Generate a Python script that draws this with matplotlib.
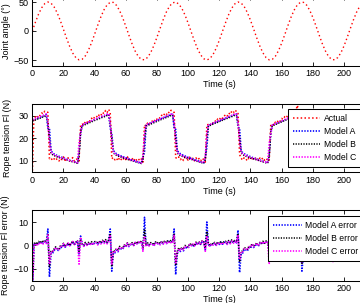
import numpy as np
import matplotlib
matplotlib.use("Agg")
import matplotlib.pyplot as plt

plt.rcParams['font.family'] = ['Liberation Sans', 'DejaVu Sans']
plt.rcParams['font.size'] = 6.5

# joint angle, sampled every 2 s
t_angle = np.arange(0, 213, 2)
joint_angle = [
    0.0, 15.2, 29.0, 40.0, 47.2, 50.0, 48.0, 41.5, 31.1, 17.7, 2.7,
    -12.6, -26.7, -38.3, -46.2, -49.8, -48.7, -43.0, -33.2, -20.3, -5.4,
    10.0, 24.4, 36.5, 45.1, 49.5, 49.3, 44.3, 35.2, 22.7, 8.1,
    -7.3, -22.0, -34.6, -43.9, -49.1, -49.6, -45.5, -37.0, -25.1, -10.7,
    4.6, 19.5, 32.6, 42.6, 48.5, 49.9, 46.5, 38.8, 27.4, 13.4,
    -1.9, -17.0, -30.5, -41.1, -47.8, -50.0, -47.5, -40.4, -29.6, -15.9,
    -0.8, 14.4, 28.3, 39.5, 46.9, 50.0, 48.2, 42.0, 31.7, 18.5, 3.5,
    -11.8, -26.0, -37.8, -45.9, -49.8, -48.9, -43.4, -33.8, -21.0, -6.2,
    9.2, 23.7, 35.9, 44.8, 49.4, 49.4, 44.7, 35.7, 23.4, 8.9,
    -6.5, -21.3, -34.0, -43.5, -49.0, -49.7, -45.8, -37.6, -25.8, -11.5,
    3.8, 18.8, 32.0, 42.2, 48.3,
]

# rope tension, sampled every 1 s (t = 0..212)
t_tension = np.arange(213)
actual = [
    4.0, 28.6, 29.5, 28.9, 30.4, 30.0, 31.2, 30.8, 32.0, 31.6, 31.5,
    11.0, 11.3, 10.2, 10.9, 11.5, 10.4, 9.9, 11.1, 10.6, 11.8, 10.3, 10.7, 11.4, 10.0, 10.8, 11.5, 9.9, 10.6, 11.0, 10.0,
    26.0, 26.3, 25.9, 27.4, 26.9, 28.0, 27.6, 28.9, 28.3, 29.5, 29.9, 29.2, 30.6, 30.1, 31.5, 30.9, 32.3, 31.4, 32.8, 31.5,
    11.0, 11.6, 10.5, 11.2, 10.1, 11.5, 10.7, 10.2, 11.4, 10.6, 11.9, 10.4, 10.9, 11.3, 10.0, 11.2, 10.3, 11.0, 10.1, 10.9, 9.5,
    26.0, 25.4, 26.8, 26.2, 27.5, 27.6, 27.1, 28.7, 28.4, 29.3, 28.9, 30.2, 29.8, 31.0, 30.4, 31.7, 31.2, 32.4, 32.0, 31.5,
    11.5, 11.0, 11.8, 10.6, 11.3, 10.2, 11.6, 10.9, 10.4, 11.7, 10.8, 11.2, 10.1, 11.4, 10.5, 11.1, 10.0, 11.2, 10.6, 9.5,
    26.0, 26.1, 25.6, 27.0, 26.8, 27.9, 27.3, 28.6, 28.2, 29.4, 28.8, 29.9, 30.3, 29.7, 31.2, 30.6, 32.0, 31.3, 32.5, 31.9, 31.5,
    12.9, 11.2, 10.4, 11.5, 10.9, 10.1, 11.3, 10.7, 11.8, 10.5, 11.0, 11.6, 10.2, 11.3, 10.6, 11.4, 10.3, 11.1, 10.4, 10.0,
    26.0, 26.4, 25.8, 27.2, 26.9, 28.1, 27.5, 28.8, 28.4, 29.6, 29.1, 30.4, 30.0, 31.3, 30.8, 32.2, 31.6, 34.6, 32.5, 31.5,
    12.0, 11.4, 10.6, 11.7, 10.3, 11.1, 10.8, 11.6, 10.2, 11.3, 10.7, 11.5, 10.4, 11.0, 10.1, 11.2, 10.5, 10.9, 10.0, 10.8, 9.8,
    26.0, 26.2, 25.9, 27.1, 26.8, 27.9, 27.4, 28.7, 28.3, 29.5, 29.0, 30.2, 29.9, 31.1, 30.6, 31.8, 31.3, 32.4, 31.9,
]
model_a = [
    28.0, 28.3, 28.5, 28.8, 29.1, 29.3, 29.6, 29.9, 30.2, 30.5, 24.5,
    24.5, 14.6, 13.6, 13.1, 12.7, 12.4, 12.1, 11.8, 11.6, 11.3, 11.1, 10.8, 10.6, 10.3, 10.1, 9.9, 9.6, 9.4, 9.1, 14.0,
    22.0, 25.8, 26.2, 26.5, 26.8, 27.1, 27.4, 27.7, 28.0, 28.3, 28.6, 28.8, 29.1, 29.4, 29.7, 29.9, 30.2, 30.5, 30.8, 24.5,
    22.0, 14.8, 13.7, 13.2, 12.8, 12.5, 12.2, 11.9, 11.7, 11.4, 11.2, 10.9, 10.7, 10.4, 10.2, 10.0, 9.7, 9.5, 9.3, 9.1, 11.5,
    14.0, 25.7, 26.1, 26.4, 26.7, 27.0, 27.3, 27.6, 27.9, 28.2, 28.5, 28.8, 29.1, 29.4, 29.6, 29.9, 30.2, 30.5, 30.8, 24.5,
    24.0, 14.7, 13.7, 13.2, 12.8, 12.5, 12.2, 11.9, 11.6, 11.4, 11.1, 10.9, 10.6, 10.4, 10.1, 9.9, 9.6, 9.4, 9.2, 11.5,
    16.0, 25.7, 26.0, 26.3, 26.6, 26.9, 27.2, 27.5, 27.8, 28.0, 28.3, 28.6, 28.9, 29.1, 29.4, 29.7, 29.9, 30.2, 30.5, 30.8, 25.0,
    24.5, 14.7, 13.7, 13.2, 12.8, 12.5, 12.2, 11.9, 11.6, 11.4, 11.1, 10.9, 10.6, 10.4, 10.1, 9.9, 9.6, 9.4, 9.2, 13.0,
    22.0, 25.8, 26.1, 26.4, 26.7, 27.0, 27.3, 27.6, 27.9, 28.2, 28.5, 28.8, 29.1, 29.4, 29.7, 30.0, 30.3, 30.6, 30.9, 25.0,
    23.0, 14.8, 13.8, 13.2, 12.8, 12.5, 12.2, 11.9, 11.7, 11.4, 11.2, 10.9, 10.7, 10.4, 10.2, 10.0, 9.7, 9.5, 9.3, 9.1, 12.0,
    22.0, 25.8, 26.1, 26.4, 26.7, 27.0, 27.3, 27.6, 27.9, 28.2, 28.5, 28.8, 29.1, 29.4, 29.7, 29.9, 30.2, 30.5, 30.8,
]
model_b = [
    27.6, 27.9, 28.1, 28.4, 28.7, 28.9, 29.2, 29.5, 29.8, 30.1, 26.5,
    20.0, 13.6, 12.8, 12.4, 12.1, 11.8, 11.6, 11.3, 11.1, 10.9, 10.7, 10.5, 10.3, 10.0, 9.8, 9.6, 9.4, 9.2, 9.0, 12.5,
    23.0, 25.5, 25.8, 26.1, 26.4, 26.7, 27.0, 27.3, 27.6, 27.9, 28.2, 28.4, 28.7, 29.0, 29.3, 29.5, 29.8, 30.1, 30.4, 26.5,
    20.0, 13.7, 12.9, 12.5, 12.2, 11.9, 11.7, 11.4, 11.2, 11.0, 10.8, 10.5, 10.3, 10.1, 9.9, 9.7, 9.5, 9.3, 9.1, 8.9, 10.5,
    19.0, 25.4, 25.7, 26.0, 26.3, 26.6, 26.9, 27.2, 27.5, 27.8, 28.1, 28.4, 28.7, 29.0, 29.2, 29.5, 29.8, 30.1, 30.4, 26.5,
    20.0, 13.6, 12.8, 12.4, 12.1, 11.8, 11.6, 11.3, 11.1, 10.9, 10.7, 10.5, 10.3, 10.0, 9.8, 9.6, 9.4, 9.2, 9.0, 10.5,
    20.0, 25.4, 25.7, 26.0, 26.3, 26.6, 26.9, 27.1, 27.4, 27.7, 28.0, 28.3, 28.5, 28.8, 29.1, 29.3, 29.6, 29.9, 30.2, 30.4, 26.5,
    20.0, 13.6, 12.8, 12.4, 12.1, 11.8, 11.6, 11.3, 11.1, 10.9, 10.7, 10.5, 10.3, 10.0, 9.8, 9.6, 9.4, 9.2, 9.0, 12.0,
    23.0, 25.5, 25.8, 26.1, 26.4, 26.7, 27.0, 27.3, 27.6, 27.9, 28.2, 28.5, 28.8, 29.0, 29.3, 29.6, 29.9, 30.2, 30.5, 26.5,
    20.0, 13.7, 12.9, 12.5, 12.2, 11.9, 11.7, 11.4, 11.2, 11.0, 10.8, 10.5, 10.3, 10.1, 9.9, 9.7, 9.5, 9.3, 9.1, 8.9, 11.0,
    23.0, 25.5, 25.8, 26.1, 26.4, 26.7, 27.0, 27.3, 27.6, 27.9, 28.2, 28.5, 28.8, 29.0, 29.3, 29.6, 29.9, 30.2, 30.5,
]
model_c = [
    28.3, 28.6, 28.8, 29.1, 29.4, 29.6, 29.9, 30.2, 30.5, 30.8, 27.0,
    19.0, 14.0, 13.2, 12.8, 12.4, 12.1, 11.8, 11.6, 11.3, 11.1, 10.9, 10.6, 10.4, 10.2, 10.0, 9.8, 9.6, 9.4, 9.2, 18.0,
    22.5, 25.9, 26.3, 26.6, 26.9, 27.2, 27.5, 27.8, 28.1, 28.4, 28.7, 29.0, 29.3, 29.5, 29.8, 30.1, 30.4, 30.7, 31.0, 27.0,
    19.0, 14.1, 13.3, 12.9, 12.5, 12.2, 11.9, 11.7, 11.4, 11.2, 11.0, 10.7, 10.5, 10.3, 10.1, 9.9, 9.7, 9.5, 9.3, 9.1, 12.0,
    22.0, 25.8, 26.2, 26.5, 26.8, 27.1, 27.4, 27.7, 28.0, 28.3, 28.6, 28.9, 29.2, 29.5, 29.8, 30.1, 30.4, 30.7, 31.0, 27.0,
    19.0, 14.0, 13.2, 12.8, 12.4, 12.1, 11.8, 11.6, 11.3, 11.1, 10.9, 10.6, 10.4, 10.2, 10.0, 9.8, 9.6, 9.4, 9.2, 12.0,
    22.0, 25.8, 26.1, 26.4, 26.7, 27.0, 27.3, 27.6, 27.9, 28.2, 28.5, 28.8, 29.0, 29.3, 29.6, 29.9, 30.2, 30.4, 30.7, 31.0, 27.0,
    19.0, 14.0, 13.2, 12.8, 12.4, 12.1, 11.8, 11.6, 11.3, 11.1, 10.9, 10.6, 10.4, 10.2, 10.0, 9.8, 9.6, 9.4, 9.2, 18.0,
    22.0, 25.9, 26.2, 26.5, 26.8, 27.1, 27.4, 27.7, 28.0, 28.3, 28.6, 28.9, 29.2, 29.5, 29.8, 30.1, 30.4, 30.7, 31.0, 27.0,
    19.0, 14.1, 13.3, 12.9, 12.5, 12.2, 11.9, 11.7, 11.4, 11.2, 11.0, 10.7, 10.5, 10.3, 10.1, 9.9, 9.7, 9.5, 9.3, 9.1, 17.0,
    22.0, 25.9, 26.2, 26.5, 26.8, 27.1, 27.4, 27.7, 28.0, 28.3, 28.6, 28.9, 29.2, 29.5, 29.8, 30.1, 30.4, 30.7, 31.0,
]
for s in (actual, model_a, model_b, model_c):
    assert len(s) == len(t_tension)

act = np.array(actual)
err_a = act - np.array(model_a)
err_b = act - np.array(model_b)
err_c = act - np.array(model_c)

# layout in pixels of the 360x303 picture
W, H = 360, 303
x0, pxu, xmax = 32.3, 1.5585, 240

fig = plt.figure(figsize=(W / 100, H / 100), dpi=100)

def make_ax(top, bottom):
    return fig.add_axes([x0 / W, 1 - bottom / H, xmax * pxu / W, (bottom - top) / H])

ax1 = make_ax(-3.8, 65.8)
ax2 = make_ax(104.4, 172.3)
ax3 = make_ax(210.3, 280.5)

fine_dots = (0, (0.8, 0.9))

ax1.plot(t_angle, joint_angle, color='red', lw=1.0, ls=(0, (1, 2)))
ax1.set_ylim(-60, 60)
ax1.set_yticks([-50, 0, 50])
ax1.set_ylabel('Joint angle (°)')

ax2.plot(t_tension, actual, color='red', lw=1.1, ls=(0, (1, 1.5)), label='Actual')
ax2.plot(t_tension, model_a, color='blue', lw=1.2, ls=fine_dots, label='Model A')
ax2.plot(t_tension, model_b, color='black', lw=1.1, ls=fine_dots, label='Model B')
ax2.plot(t_tension, model_c, color='magenta', lw=1.2, ls=fine_dots, label='Model C')
ax2.set_ylim(5, 35)
ax2.set_yticks([10, 20, 30])
ax2.set_ylabel('Rope tension Fl (N)')

ax3.plot(t_tension, err_a, color='blue', lw=1.2, ls=fine_dots, label='Model A error')
ax3.plot(t_tension, err_b, color='black', lw=1.1, ls=fine_dots, label='Model B error')
ax3.plot(t_tension, err_c, color='magenta', lw=1.2, ls=fine_dots, label='Model C error')
ax3.set_ylim(-15, 15)
ax3.set_yticks([-10, 0, 10])
ax3.set_ylabel('Rope tension Fl error (N)')

for ax in (ax1, ax2, ax3):
    ax.set_xlim(0, xmax)
    ax.set_xticks(np.arange(0, 201, 20))
    ax.set_xlabel('Time (s)', labelpad=1.5)
    ax.tick_params(direction='in', top=True, right=True, length=3, width=0.6, pad=2.5, labelsize=6.5)
    for sp in ax.spines.values():
        sp.set_linewidth(0.75)

ax1.yaxis.set_label_coords((11 - x0) / (xmax * pxu), 0.5)
ax2.yaxis.set_label_coords((12.5 - x0) / (xmax * pxu), 0.5)
ax3.yaxis.set_label_coords((10 - x0) / (xmax * pxu), 0.5)

legend_spots = ((ax2, 288, 109, 3.1), (ax3, 268, 216, 3.3))
for ax, lx, ly, hl in legend_spots:
    leg = ax.legend(loc='upper left', bbox_to_anchor=(lx / W, 1 - ly / H), bbox_transform=fig.transFigure,
                    borderaxespad=0, fancybox=False, framealpha=1, edgecolor='black', fontsize=6.2,
                    handlelength=hl, handletextpad=0.45, labelspacing=0.45, borderpad=0.6)
    leg.get_frame().set_linewidth(0.75)

fig.savefig('out.png', dpi=100)
